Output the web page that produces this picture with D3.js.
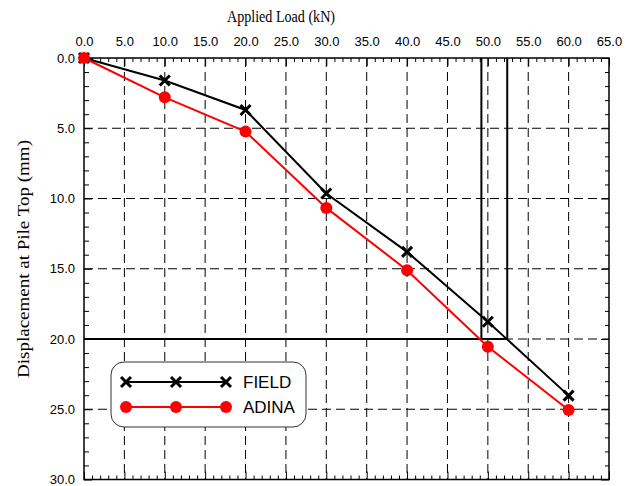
<!DOCTYPE html>
<html>
<head>
<meta charset="utf-8">
<script src="https://cdn.jsdelivr.net/npm/d3@7"></script>
<style>
  html, body { margin: 0; padding: 0; background: #fff; }
  svg { display: block; }
  .tick text { font-family: "Liberation Sans", Arial, sans-serif; font-size: 13px; fill: #000; }
  .axis path.domain { display: none; }
  .axis line { stroke: #000; stroke-width: 1; }
</style>
</head>
<body>
<svg id="chart" width="636" height="486"></svg>
<script>
// Pile load test: applied load vs. displacement at pile top
const loads      = [0, 10, 20, 30, 40, 50, 60];
const fieldDisp  = [0, 1.6, 3.7, 9.64, 13.8, 18.77, 24.03];
const adinaDisp  = [0, 2.8, 5.24, 10.67, 15.1, 20.55, 25.05];
const seriesNames = ["FIELD", "ADINA"];

// Reference lines: 20 mm displacement criterion and the loads where each curve reaches it
const criterionDisp = 20;
const criterionLoads = [49.2, 52.4];

const xMajor = d3.range(0, 65.001, 5);
const yMajor = d3.range(0, 30.001, 5);
const xMinor = d3.range(0, 65.001, 1).filter(v => v % 5 !== 0);
const yMinor = d3.range(0, 30.001, 1).filter(v => v % 5 !== 0);

const svg = d3.select("#chart");
const L = 84, R = 609, T = 58, B = 479.5;

const x = d3.scaleLinear().domain([0, 65]).range([L, R]);
const y = d3.scaleLinear().domain([0, 30]).range([T, B]);
const fmt = d3.format(".1f");

// dashed grid
const grid = svg.append("g").attr("stroke", "#000").attr("stroke-width", 1)
  .attr("stroke-dasharray", "9,5");
grid.selectAll(".gx").data(xMajor.filter(v => v > 0 && v < 65)).join("line")
  .attr("x1", d => x(d)).attr("x2", d => x(d)).attr("y1", T).attr("y2", B);
grid.selectAll(".gy").data(yMajor.filter(v => v > 0 && v < 30)).join("line")
  .attr("x1", L).attr("x2", R).attr("y1", d => y(d)).attr("y2", d => y(d));

// axes (ticks pointing inward)
svg.append("g").attr("class", "axis").attr("transform", `translate(0,${T})`)
  .call(d3.axisTop(x).tickValues(xMajor).tickFormat(fmt).tickSize(-8).tickPadding(12));
svg.append("g").attr("class", "axis").attr("transform", `translate(0,${T})`)
  .call(d3.axisTop(x).tickValues(xMinor).tickFormat("").tickSize(-4));
svg.append("g").attr("class", "axis").attr("transform", `translate(0,${B})`)
  .call(d3.axisBottom(x).tickValues(xMajor).tickFormat("").tickSize(-8));
svg.append("g").attr("class", "axis").attr("transform", `translate(0,${B})`)
  .call(d3.axisBottom(x).tickValues(xMinor).tickFormat("").tickSize(-4));
svg.append("g").attr("class", "axis").attr("transform", `translate(${L},0)`)
  .call(d3.axisLeft(y).tickValues(yMajor).tickFormat(fmt).tickSize(-8).tickPadding(9));
svg.append("g").attr("class", "axis").attr("transform", `translate(${L},0)`)
  .call(d3.axisLeft(y).tickValues(yMinor).tickFormat("").tickSize(-5));
svg.append("g").attr("class", "axis").attr("transform", `translate(${R},0)`)
  .call(d3.axisRight(y).tickValues(yMajor).tickFormat("").tickSize(-8));
svg.append("g").attr("class", "axis").attr("transform", `translate(${R},0)`)
  .call(d3.axisRight(y).tickValues(yMinor).tickFormat("").tickSize(-4));

// frame
svg.append("rect").attr("x", L).attr("y", T).attr("width", R - L).attr("height", B - T)
  .attr("fill", "none").attr("stroke", "#000").attr("stroke-width", 1.5);

// criterion lines
const crit = svg.append("g").attr("stroke", "#000").attr("stroke-width", 2);
crit.append("line")
  .attr("x1", x(0)).attr("x2", x(d3.max(criterionLoads)))
  .attr("y1", y(criterionDisp)).attr("y2", y(criterionDisp));
crit.selectAll(".v").data(criterionLoads).join("line")
  .attr("x1", d => x(d)).attr("x2", d => x(d))
  .attr("y1", y(0)).attr("y2", y(criterionDisp));

// series
const line = d3.line().x(d => x(d[0])).y(d => y(d[1]));
const fieldPts = loads.map((l, i) => [l, fieldDisp[i]]);
const adinaPts = loads.map((l, i) => [l, adinaDisp[i]]);

function crossMarks(g, pts, s) {
  g.selectAll(null).data(pts).join("path")
    .attr("d", d => {
      const cx = x(d[0]), cy = y(d[1]);
      return `M${cx - s},${cy - s}L${cx + s},${cy + s}M${cx - s},${cy + s}L${cx + s},${cy - s}`;
    })
    .attr("stroke", "#000").attr("stroke-width", 3).attr("fill", "none");
}

svg.append("path").datum(fieldPts).attr("d", line)
  .attr("fill", "none").attr("stroke", "#000").attr("stroke-width", 2);
crossMarks(svg.append("g"), fieldPts, 5);

svg.append("path").datum(adinaPts).attr("d", line)
  .attr("fill", "none").attr("stroke", "#ff0000").attr("stroke-width", 2);
svg.append("g").selectAll("circle").data(adinaPts).join("circle")
  .attr("cx", d => x(d[0])).attr("cy", d => y(d[1])).attr("r", 6).attr("fill", "#ff0000");

// legend
const lg = svg.append("g");
lg.append("rect").attr("x", 111).attr("y", 362).attr("width", 195).attr("height", 65)
  .attr("rx", 13).attr("fill", "#fff").attr("stroke", "#333").attr("stroke-width", 1);
const lx = [126, 176, 226];
const rows = [{ name: seriesNames[0], y: 382 }, { name: seriesNames[1], y: 407 }];
// FIELD row
lg.append("line").attr("x1", lx[0]).attr("x2", lx[2]).attr("y1", rows[0].y).attr("y2", rows[0].y)
  .attr("stroke", "#000").attr("stroke-width", 2);
lg.selectAll(".lx").data(lx).join("path")
  .attr("d", d => `M${d - 5},${rows[0].y - 5}L${d + 5},${rows[0].y + 5}M${d - 5},${rows[0].y + 5}L${d + 5},${rows[0].y - 5}`)
  .attr("stroke", "#000").attr("stroke-width", 3);
// ADINA row
lg.append("line").attr("x1", lx[0]).attr("x2", lx[2]).attr("y1", rows[1].y).attr("y2", rows[1].y)
  .attr("stroke", "#ff0000").attr("stroke-width", 2);
lg.selectAll(".lc").data(lx).join("circle")
  .attr("cx", d => d).attr("cy", rows[1].y).attr("r", 6).attr("fill", "#ff0000");
lg.selectAll("text").data(rows).join("text")
  .attr("x", 243).attr("y", d => d.y).attr("dy", "0.35em")
  .attr("font-family", "Liberation Sans, Arial, sans-serif").attr("font-size", 17)
  .text(d => d.name);

// axis titles
svg.append("text").attr("x", 281).attr("y", 22).attr("text-anchor", "middle")
  .attr("font-family", "Liberation Serif, Times New Roman, serif").attr("font-size", 16)
  .attr("textLength", 108).attr("lengthAdjust", "spacingAndGlyphs")
  .text("Applied Load (kN)");
svg.append("text").attr("transform", "translate(29,259) rotate(-90)").attr("text-anchor", "middle")
  .attr("font-family", "Liberation Serif, Times New Roman, serif").attr("font-size", 16)
  .attr("textLength", 238).attr("lengthAdjust", "spacingAndGlyphs")
  .text("Displacement at Pile Top (mm)");
</script>
</body>
</html>
